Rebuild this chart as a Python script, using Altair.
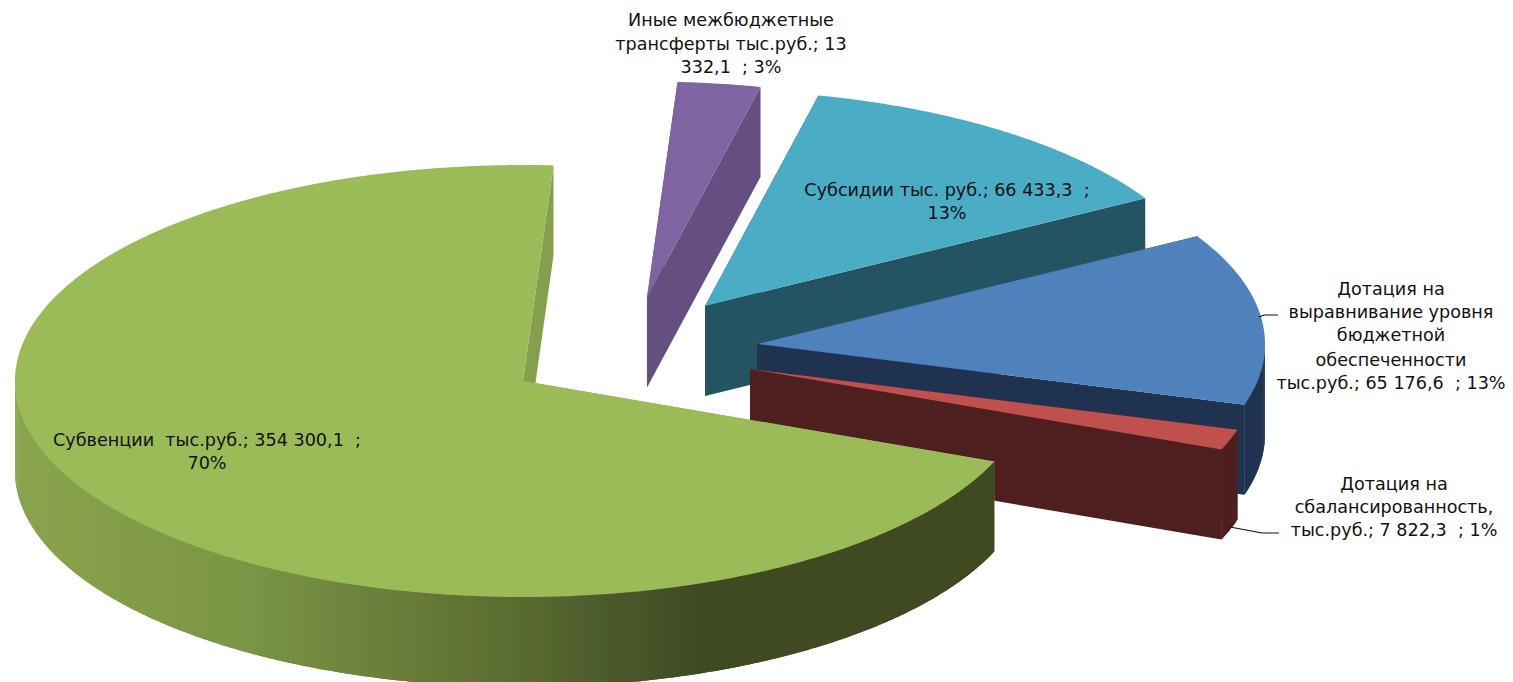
import math
import altair as alt

# ---- data ----
categories = ["Субвенции", "Иные межбюджетные трансферты", "Субсидии",
              "Дотация на выравнивание", "Дотация на сбалансированность"]
values = [354300.1, 13332.1, 66433.3, 65176.6, 7822.3]
top_colors = ["#9BBB59", "#8064A2", "#4BACC6", "#4F81BD", "#C0504D"]
side_colors = ["#869F4B", "#654F80", "#245361", "#1F3350", "#4E1F1F"]
NB = "\u00a0"
label_lines = [
    [f"Субвенции{NB} тыс.руб.; 354 300,1{NB} ;", "70%"],
    ["Иные межбюджетные", "трансферты тыс.руб.; 13", f"332,1{NB} ; 3%"],
    [f"Субсидии тыс. руб.; 66 433,3{NB} ;", "13%"],
    ["Дотация на", "выравнивание уровня", "бюджетной", "обеспеченности", f"тыс.руб.; 65 176,6{NB} ; 13%"],
    ["Дотация на", "сбалансированность,", f"тыс.руб.; 7 822,3{NB} ; 1%"],
]

# ---- 3-D pie geometry (pixels of the page) ----
RX, RY, DEPTH = 508, 216, 90
START_DEG = 111.9           # clockwise from the back of the pie
apexes = [(523, 381), (647, 297.5), (705, 306), (757, 344), (750, 369)]
label_pos = [(207, [441, 464]), (731, [21, 45, 68]), (947, [191, 214]),
             (1391, [290, 313, 336, 361, 384]), (1394, [485, 508, 531])]
leaders = [[(1259, 317), (1264, 315), (1278, 315)], [(1230, 527), (1262, 533), (1279, 533)]]
green_stops = [(15, (0x8A, 0xA5, 0x4E)), (100, (0x85, 0x9E, 0x49)), (250, (0x7A, 0x95, 0x45)),
               (350, (0x6F, 0x84, 0x3E)), (450, (0x63, 0x75, 0x34)), (520, (0x5A, 0x6B, 0x30)),
               (600, (0x4D, 0x5C, 0x2C)), (700, (0x3F, 0x4A, 0x20)), (1000, (0x3F, 0x4A, 0x20))]


def green_at(x):
    for (x0, c0), (x1, c1) in zip(green_stops, green_stops[1:]):
        if x <= x1:
            t = max(0, (x - x0) / (x1 - x0))
            return "#%02X%02X%02X" % tuple(round(a + (b - a) * t) for a, b in zip(c0, c1))
    return "#3F4A20"


def rim(apex, deg):
    r = math.radians(deg)
    return (apex[0] + RX * math.sin(r), apex[1] - RY * math.cos(r))


def feature(points, color):
    ring = [list(p) for p in points] + [list(points[0])]
    return {"type": "Feature", "properties": {"color": color},
            "geometry": {"type": "Polygon", "coordinates": [ring]}}


def drop(p):
    return (p[0], p[1] + DEPTH)


def lift(p):
    return (p[0], p[1] - 1)


total = sum(values)
spans = []
a = START_DEG
for v in values:
    a1 = a + v / total * 360
    spans.append((a, a1))
    a = a1 - 360 if a1 >= 360 else a1

per_slice = []
for i, (a0, a1) in enumerate(spans):
    apex = apexes[i]
    side = side_colors[i]
    feats = []
    p0, p1 = rim(apex, a0), rim(apex, a1)
    feats.append(feature([apex, p0, drop(p0), drop(apex)], side))
    # outer wall: only the front half of the ellipse can be seen
    f0, f1 = max(a0, 90.0), min(a1, 270.0)
    if f1 > f0:
        m = max(2, int((f1 - f0) * 2))
        wall = [rim(apex, f0 + (f1 - f0) * k / m) for k in range(m + 1)]
        for k in range(m):
            seg = wall[k:min(k + 3, m + 1)]
            color = green_at((wall[k][0] + wall[k + 1][0]) / 2) if i == 0 else side
            feats.append(feature([lift(q) for q in seg] + [drop(q) for q in reversed(seg)], color))
    feats.append(feature([apex, p1, drop(p1), drop(apex)], side))
    n = max(2, int((a1 - a0) * 2))
    arc = [rim(apex, a0 + (a1 - a0) * k / n) for k in range(n + 1)]
    feats.append(feature([apex] + arc, top_colors[i]))
    per_slice.append(feats)

# back-to-front: purple, teal, blue, red, then the big green slice
features = []
for i in [1, 2, 3, 4, 0]:
    features += per_slice[i]

geo = alt.Chart(alt.InlineData(values={"type": "FeatureCollection", "features": features},
                               format=alt.DataFormat(type="json", property="features"))).mark_geoshape(
    strokeWidth=0, strokeOpacity=0
).encode(
    fill=alt.Color("properties.color:N", scale=None, legend=None),
).project(type="identity", scale=1, translate=[-8, -8])

rows = []
for lines, (cx, ys) in zip(label_lines, label_pos):
    for line, y in zip(lines, ys):
        rows.append({"x": cx - 8, "y": y - 8, "t": line})
text = alt.Chart(alt.Data(values=rows)).mark_text(
    font="DejaVu Sans", fontSize=17.6, color="#111111", align="center", baseline="middle"
).encode(
    x=alt.X("x:Q", scale=None), y=alt.Y("y:Q", scale=None), text="t:N"
)

leader_rows = []
for k, pts in enumerate(leaders):
    for j, (x, y) in enumerate(pts):
        leader_rows.append({"x": x - 8, "y": y - 8, "k": k, "j": j})
lead = alt.Chart(alt.Data(values=leader_rows)).mark_line(color="#111111", strokeWidth=1.2).encode(
    x=alt.X("x:Q", scale=None), y=alt.Y("y:Q", scale=None), detail="k:N", order="j:Q"
)

chart = alt.layer(geo, lead, text).properties(
    width=1497, height=674, padding=0, autosize=alt.AutoSizeParams(type="none")
).configure_view(stroke=None)

chart.save("out.html", embed_options={"renderer": "svg", "actions": False})
